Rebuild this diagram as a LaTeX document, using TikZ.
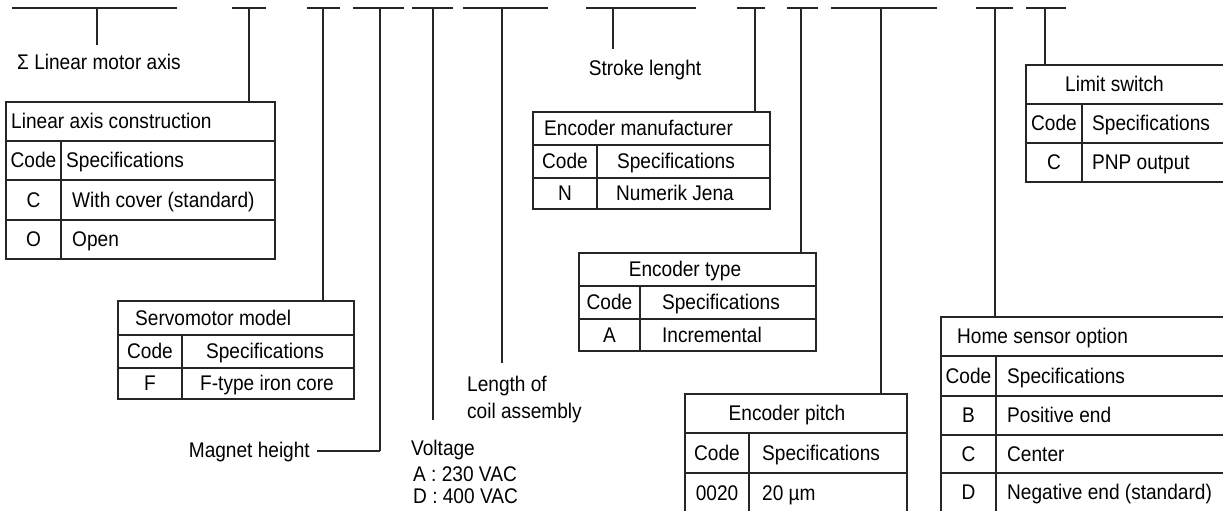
\documentclass[tikz,border=0pt]{standalone}
\usepackage{fontspec}
\setmainfont{Liberation Sans}[FakeStretch=0.9]
\begin{document}
\begin{tikzpicture}[x=1pt,y=-1pt,
  lbl/.style={inner sep=0,font=\fontsize{21.2}{25}\selectfont},
  tbl/.style={line width=1.2pt,draw=black!85}]
\useasboundingbox(0,0)rectangle(1223,511);
%top marks
\foreach \a/\b in {12/177,232/266,307/340,353/404,412/453,463/548,586/696,737/765,787/818,831/937,976/1013,1026/1066}{
\draw[tbl](\a,8)--(\b,8);
}
%leaders
\foreach \x/\y [count=\i] in {97/45,249/102,323/301,380/451,433/420,502/363,613/49,755/112,801/253,881/394,995/317,1045/65}{
\coordinate(k\i)at(\x,8);
\coordinate(e\i)at(\x,\y);
\draw[tbl](k\i)--(e\i);
}
\coordinate(mh)at(317,451);
\draw[tbl](e4)--(mh);
%free labels
\node[lbl,anchor=base west](lma)at(17,70){Σ Linear motor axis};
\node[lbl,anchor=base](stl)at(645,75){Stroke lenght};
\node[lbl,anchor=base east](mgh)at(310,457){Magnet height};
\node[lbl,anchor=base west](vlt)at(411,455){Voltage};
\node[lbl,anchor=base west](vla)at(413,481){A : 230 VAC};
\node[lbl,anchor=base west](vld)at(413,503){D : 400 VAC};
\node[lbl,anchor=base west](lca)at(467,391){Length of};
\node[lbl,anchor=base west](lcb)at(467,418){coil assembly};
%linear axis construction
\draw[tbl](6,102)rectangle(275,259);
\foreach \y in {141,180,220}{\draw[tbl](6,\y)--(275,\y);}
\draw[tbl](61,141)--(61,259);
\node[lbl,anchor=base west](lacT)at(11,128.5){Linear axis construction};
\node[lbl,anchor=base](lacC)at(33.5,167.5){Code};
\node[lbl,anchor=base west](lacS)at(66,167.5){Specifications};
\node[lbl,anchor=base](lacC1)at(33.5,207){C};
\node[lbl,anchor=base west](lacS1)at(72,207){With cover (standard)};
\node[lbl,anchor=base](lacC2)at(33.5,246.5){O};
\node[lbl,anchor=base west](lacS2)at(72,246.5){Open};
%servomotor model
\draw[tbl](118,301)rectangle(354,399);
\foreach \y in {335,368}{\draw[tbl](118,\y)--(354,\y);}
\draw[tbl](182,335)--(182,399);
\node[lbl,anchor=base west](svmT)at(135,325){Servomotor model};
\node[lbl,anchor=base](svmC)at(150,358.5){Code};
\node[lbl,anchor=base](svmS)at(265,358.5){Specifications};
\node[lbl,anchor=base](svmC1)at(150,390.5){F};
\node[lbl,anchor=base](svmS1)at(267,390.5){F-type iron core};
%encoder manufacturer
\draw[tbl](533,112)rectangle(770,209);
\foreach \y in {145,178}{\draw[tbl](533,\y)--(770,\y);}
\draw[tbl](597,145)--(597,209);
\node[lbl,anchor=base west](enmT)at(544,135.5){Encoder manufacturer};
\node[lbl,anchor=base](enmC)at(565,168.5){Code};
\node[lbl,anchor=base](enmS)at(676,168.5){Specifications};
\node[lbl,anchor=base](enmC1)at(565,200.5){N};
\node[lbl,anchor=base](enmS1)at(675,200.5){Numerik Jena};
%encoder type
\draw[tbl](579,253)rectangle(816,351);
\foreach \y in {286,319}{\draw[tbl](579,\y)--(816,\y);}
\draw[tbl](640,286)--(640,351);
\node[lbl,anchor=base](entT)at(685,276.5){Encoder type};
\node[lbl,anchor=base](entC)at(609.5,309.5){Code};
\node[lbl,anchor=base](entS)at(721,309.5){Specifications};
\node[lbl,anchor=base](entC1)at(609.5,342){A};
\node[lbl,anchor=base](entS1)at(712,342){Incremental};
%encoder pitch
\draw[tbl](685,394)rectangle(907,530);
\foreach \y in {433,473,513}{\draw[tbl](685,\y)--(907,\y);}
\draw[tbl](749,433)--(749,530);
\node[lbl,anchor=base](enpT)at(787,420.5){Encoder pitch};
\node[lbl,anchor=base](enpC)at(717,460){Code};
\node[lbl,anchor=base west](enpS)at(762,460){Specifications};
\node[lbl,anchor=base](enpC1)at(717,500){0020};
\node[lbl,anchor=base west](enpS1)at(762,500){20 µm};
%home sensor option
\draw[tbl](941,317)rectangle(1240,530);
\foreach \y in {356,396,435,473,512}{\draw[tbl](941,\y)--(1240,\y);}
\draw[tbl](996,356)--(996,530);
\node[lbl,anchor=base west](hsoT)at(957,343.5){Home sensor option};
\node[lbl,anchor=base](hsoC)at(968.5,383){Code};
\node[lbl,anchor=base west](hsoS)at(1007,383){Specifications};
\node[lbl,anchor=base](hsoC1)at(968.5,422.5){B};
\node[lbl,anchor=base west](hsoS1)at(1007,422.5){Positive end};
\node[lbl,anchor=base](hsoC2)at(968.5,461){C};
\node[lbl,anchor=base west](hsoS2)at(1007,461){Center};
\node[lbl,anchor=base](hsoC3)at(968.5,499.5){D};
\node[lbl,anchor=base west](hsoS3)at(1007,499.5){Negative end (standard)};
%limit switch
\draw[tbl](1026,65)rectangle(1240,182);
\foreach \y in {104,143}{\draw[tbl](1026,\y)--(1240,\y);}
\draw[tbl](1082,104)--(1082,182);
\node[lbl,anchor=base west](lswT)at(1065,91.5){Limit switch};
\node[lbl,anchor=base](lswC)at(1054,130.5){Code};
\node[lbl,anchor=base west](lswS)at(1092,130.5){Specifications};
\node[lbl,anchor=base](lswC1)at(1054,169.5){C};
\node[lbl,anchor=base west](lswS1)at(1092,169.5){PNP output};
\end{tikzpicture}
\end{document}
